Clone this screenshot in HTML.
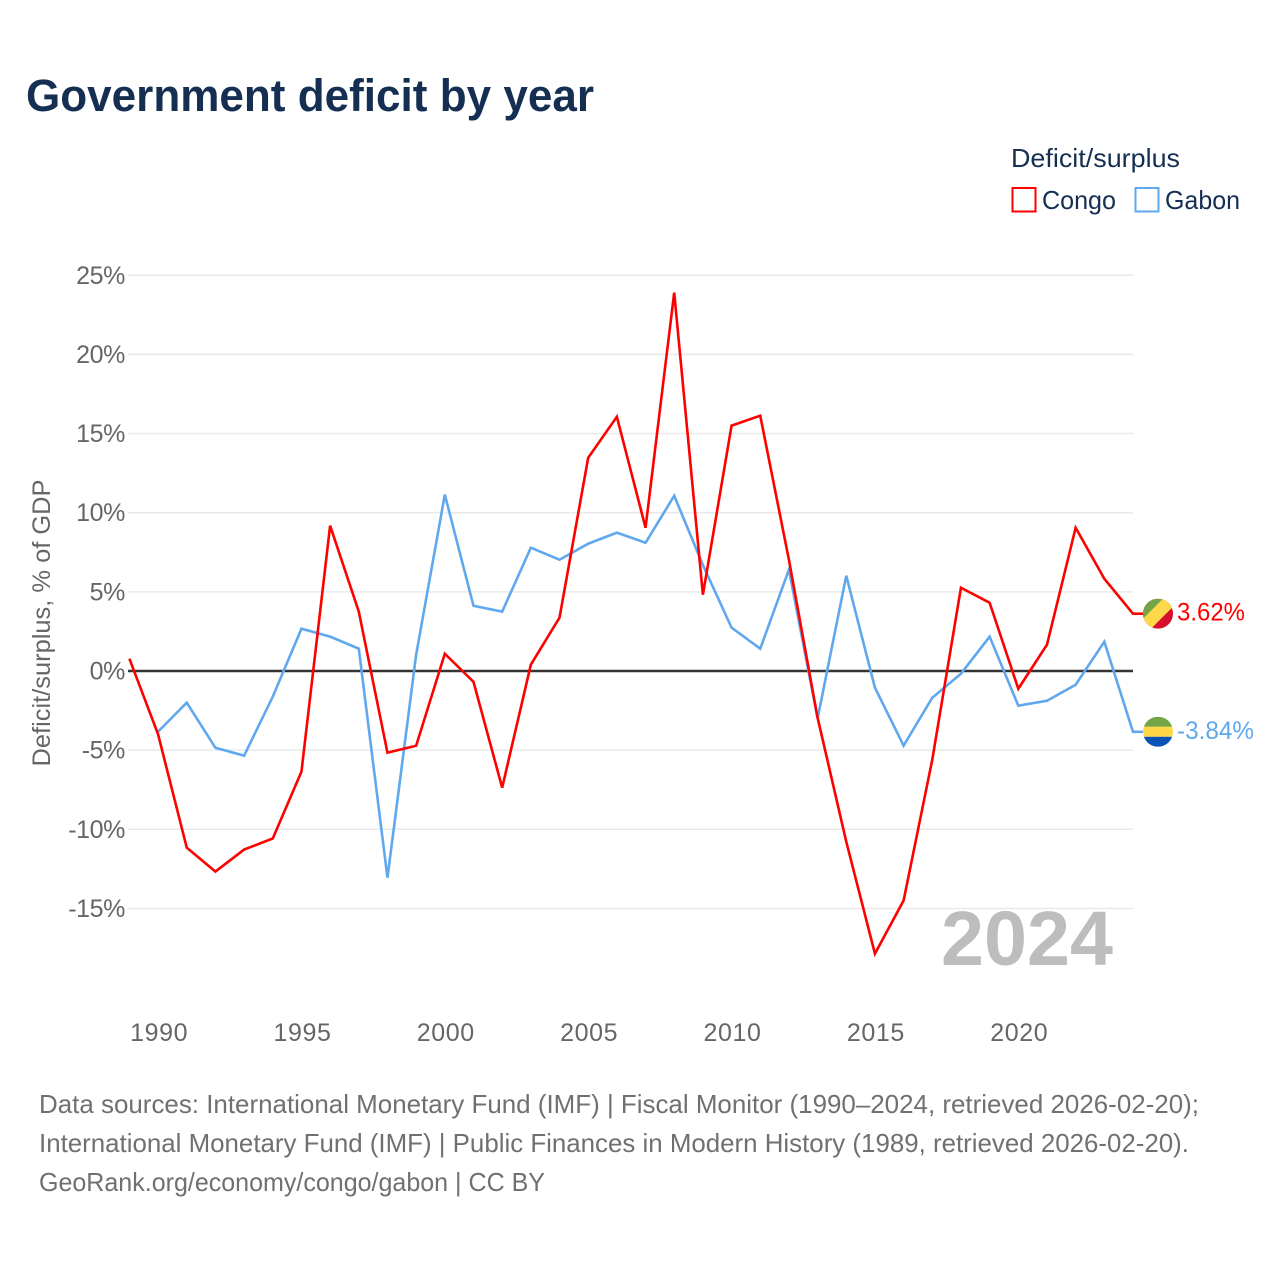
<!DOCTYPE html>
<html lang="en">
<head>
<meta charset="utf-8">
<title>Government deficit by year</title>
<style>
html,body{margin:0;padding:0;background:#fff;}
svg{display:block;}
text{font-family:"Liberation Sans",sans-serif;}
</style>
</head>
<body>
<svg id="chart" xmlns="http://www.w3.org/2000/svg" width="1280" height="1280" viewBox="0 0 1280 1280">
  <rect x="0" y="0" width="1280" height="1280" fill="#ffffff"/>
  <text x="26" y="111" font-size="45" font-weight="700" fill="#152f52" textLength="568" lengthAdjust="spacingAndGlyphs">Government deficit by year</text>

  <g>
    <text x="1011" y="167" font-size="26" fill="#152f52" textLength="169" lengthAdjust="spacingAndGlyphs">Deficit/surplus</text>
    <rect x="1012.5" y="188" width="23" height="23.5" fill="none" stroke="#ff0000" stroke-width="2"/>
    <text x="1042" y="209" font-size="26" fill="#152f52" textLength="74" lengthAdjust="spacingAndGlyphs">Congo</text>
    <rect x="1135.5" y="188" width="23" height="23.5" fill="none" stroke="#60a8ee" stroke-width="2"/>
    <text x="1165" y="209" font-size="26" fill="#152f52" textLength="75" lengthAdjust="spacingAndGlyphs">Gabon</text>
  </g>

  <g id="grid"></g>
  <g id="y-ticks"></g>
  <g id="x-ticks"></g>
  <text transform="translate(50,623) rotate(-90)" text-anchor="middle" font-size="25" fill="#666666" textLength="287" lengthAdjust="spacingAndGlyphs">Deficit/surplus, % of GDP</text>
  <text x="941" y="965" font-size="77" font-weight="700" fill="#bdbdbd" textLength="172" lengthAdjust="spacingAndGlyphs">2024</text>
  <g id="series"></g>

  <g id="congo-end">
    <clipPath id="congo-clip"><circle cx="0" cy="0" r="15"/></clipPath>
    <g clip-path="url(#congo-clip)">
      <rect x="-15" y="-15" width="30" height="30" fill="#d80f2c"/>
      <polygon points="-15,-15 15,-15 -15,15" fill="#73a546"/>
      <polygon points="5,-15 15,-15 15,-7 -7,15 -15,15 -15,5" fill="#ffd84a"/>
    </g>
  </g>
  <g id="gabon-end">
    <clipPath id="gabon-clip"><circle cx="0" cy="0" r="15"/></clipPath>
    <g clip-path="url(#gabon-clip)">
      <rect x="-15" y="-15" width="30" height="10" fill="#73a546"/>
      <rect x="-15" y="-5" width="30" height="10" fill="#ffd84a"/>
      <rect x="-15" y="5" width="30" height="10" fill="#0a52b5"/>
    </g>
  </g>
  <text id="congo-value" x="1177" font-size="25" fill="#ff0000" textLength="68" lengthAdjust="spacingAndGlyphs"></text>
  <text id="gabon-value" x="1177" font-size="25" fill="#60a8ee" textLength="77" lengthAdjust="spacingAndGlyphs"></text>

  <g font-size="26" fill="#707070">
    <text x="39" y="1113" textLength="1160" lengthAdjust="spacingAndGlyphs">Data sources: International Monetary Fund (IMF) | Fiscal Monitor (1990–2024, retrieved 2026-02-20);</text>
    <text x="39" y="1152" textLength="1150" lengthAdjust="spacingAndGlyphs">International Monetary Fund (IMF) | Public Finances in Modern History (1989, retrieved 2026-02-20).</text>
    <text x="39" y="1191" textLength="506" lengthAdjust="spacingAndGlyphs">GeoRank.org/economy/congo/gabon | CC BY</text>
  </g>
</svg>
<script>
const years = [1989,1990,1991,1992,1993,1994,1995,1996,1997,1998,1999,2000,2001,2002,2003,2004,2005,2006,2007,2008,2009,2010,2011,2012,2013,2014,2015,2016,2017,2018,2019,2020,2021,2022,2023,2024];
const congoValues = [0.78,-4.0,-11.16,-12.67,-11.28,-10.58,-6.36,9.18,3.75,-5.16,-4.72,1.09,-0.68,-7.37,0.4,3.37,13.47,16.06,9.05,23.9,4.82,15.5,16.13,7.03,-2.95,-10.78,-17.86,-14.5,-5.6,5.26,4.31,-1.12,1.66,9.05,5.83,3.62];
const gabonValues = [null,-3.83,-2.0,-4.85,-5.35,-1.62,2.67,2.17,1.41,-13.06,1.03,11.14,4.12,3.75,7.79,7.03,8.04,8.74,8.1,11.07,6.7,2.74,1.41,6.4,-3.0,6.02,-1.05,-4.72,-1.69,-0.17,2.17,-2.19,-1.88,-0.87,1.85,-3.84];
const yTickValues = [25,20,15,10,5,0,-5,-10,-15];
const xTickYears = [1990,1995,2000,2005,2010,2015,2020];

const NS = 'http://www.w3.org/2000/svg';
function xScale(year){ return 129.4 + (year - 1989) * (1003.6 / 35); }
function yScale(v){ return 671 - v * 15.83; }
function make(tag, attrs, parent){
  const el = document.createElementNS(NS, tag);
  for (const k in attrs) el.setAttribute(k, attrs[k]);
  parent.appendChild(el);
  return el;
}

const gridG = document.getElementById('grid');
const yG = document.getElementById('y-ticks');
yTickValues.forEach(function(v){
  const zero = v === 0;
  const line = make('line', {x1:128, x2:1133, y1:yScale(v), y2:yScale(v), stroke: zero ? '#333333' : '#e9e9e9', 'stroke-width': zero ? 2.6 : 1.5}, gridG);
  
  
  const label = make('text', {x:125, y:yScale(v) + 8.5, 'text-anchor':'end', 'font-size':25, fill:'#666666', 'letter-spacing':'-0.4'}, yG);
  label.textContent = v + '%';
  
  
});

const xG = document.getElementById('x-ticks');
xTickYears.forEach(function(y){
  const label = make('text', {x:xScale(y) + 1, y:1041, 'text-anchor':'middle', 'font-size':25, fill:'#666666', 'letter-spacing':'0.6'}, xG);
  label.textContent = String(y);
  
  
});

const flagX = 1158;
function pathFor(vals){
  let d = '';
  let last = null;
  vals.forEach(function(v, i){
    if (v === null) return;
    d += (d ? 'L' : 'M') + xScale(years[i]).toFixed(2) + ' ' + yScale(v).toFixed(2);
    last = v;
  });
  d += 'L' + flagX + ' ' + yScale(last).toFixed(2);
  return d;
}
const seriesG = document.getElementById('series');
const gabonLine = make('path', {d:pathFor(gabonValues), fill:'none', stroke:'#60a8ee', 'stroke-width':2.6, 'stroke-linejoin':'miter'}, seriesG);


const congoLine = make('path', {d:pathFor(congoValues), fill:'none', stroke:'#ff0000', 'stroke-width':2.6, 'stroke-linejoin':'miter'}, seriesG);



const congoLast = congoValues[congoValues.length - 1];
const gabonLast = gabonValues[gabonValues.length - 1];
document.getElementById('congo-end').setAttribute('transform', 'translate(' + flagX + ',' + yScale(congoLast) + ')');
document.getElementById('gabon-end').setAttribute('transform', 'translate(' + flagX + ',' + yScale(gabonLast) + ')');
const congoText = document.getElementById('congo-value');
congoText.setAttribute('y', yScale(congoLast) + 7);
congoText.textContent = congoLast.toFixed(2) + '%';
const gabonText = document.getElementById('gabon-value');
gabonText.setAttribute('y', yScale(gabonLast) + 7);
gabonText.textContent = gabonLast.toFixed(2) + '%';
</script>
</body>
</html>
